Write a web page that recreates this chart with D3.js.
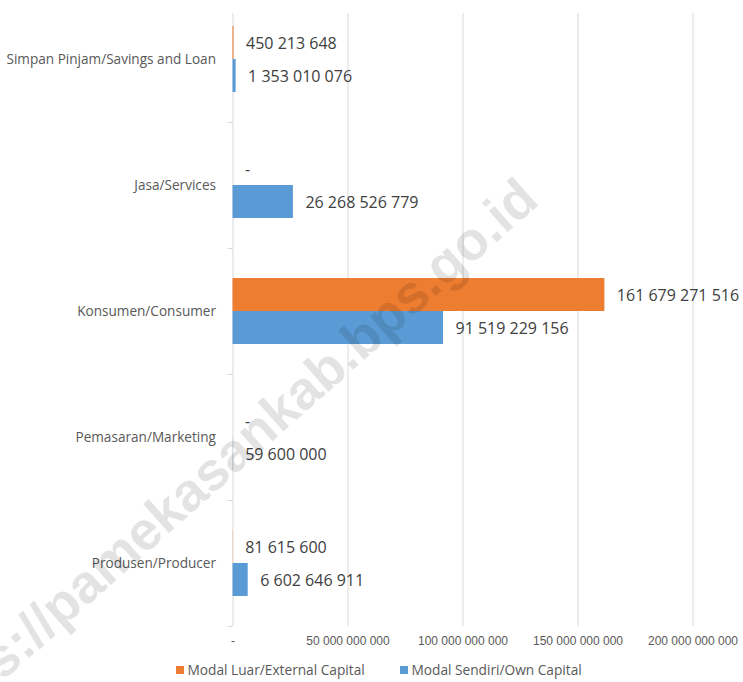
<!DOCTYPE html>
<html>
<head>
<meta charset="utf-8">
<script src="https://cdn.jsdelivr.net/npm/d3@7"></script>
<style>
  body { margin: 0; background: #fff; }
  svg { display: block; font-family: "Open Sans", sans-serif; }
  .x text { fill: #595959; font-size: 12px; }
  .x line { stroke: #d9d9d9; }
  .cat { fill: #595959; font-size: 13.6px; }
  .val { fill: #404040; font-size: 16px; }
  .leg { fill: #595959; font-size: 13.7px; }
</style>
</head>
<body>
<div id="chart"></div>
<script>
// top to bottom
const categories = [
    "Simpan Pinjam/Savings and Loan",
    "Jasa/Services",
    "Konsumen/Consumer",
    "Pemasaran/Marketing",
    "Produsen/Producer"
];
const seriesNames = ["Modal Luar/External Capital", "Modal Sendiri/Own Capital"];
const externalCapital = [450213648, 0, 161679271516, 0, 81615600];
const ownCapital = [1353010076, 26268526779, 91519229156, 59600000, 6602646911];
const tickValues = [0, 50e9, 100e9, 150e9, 200e9];
const colors = ["#ED7D31", "#5B9BD5"];

const w = 743, h = 682;
const left = 232.5, right = 692.5, plotTop = 13, plotBottom = 626;

const loc = d3.formatLocale({thousands: " ", grouping: [3], decimal: ",", currency: ["", ""]});
const fmt = v => v === 0 ? "-" : loc.format(",.0f")(v);

const svg = d3.select("#chart").append("svg")
    .attr("width", w)
    .attr("height", h);

const x = d3.scaleLinear()
    .domain([0, 200e9])
    .range([left, right]);

const y0 = d3.scaleBand()
    .domain(categories)
    .range([-4, plotBottom]);

const y1 = d3.scaleBand()
    .domain(seriesNames)
    .range([0, y0.bandwidth()])
    .paddingOuter(0.91);

// gridlines + tick labels
const xAxis = d3.axisBottom(x)
    .tickValues(tickValues)
    .tickSizeInner(-(plotBottom - plotTop))
    .tickSizeOuter(0)
    .tickPadding(10)
    .tickFormat(fmt);

svg.append("g")
    .attr("class", "x")
    .attr("transform", "translate(0," + plotBottom + ")")
    .call(xAxis)
    .call(g => g.select(".domain").remove())
    .call(g => g.selectAll("text").attr("font-family", null).attr("font-size", null));

// small ticks left of the axis between categories
const bounds = categories.map(c => y0(c)).concat([plotBottom]).filter(v => v > plotTop);
svg.append("g").selectAll("line")
    .data(bounds)
    .enter()
    .append("line")
    .attr("x1", left - 5).attr("x2", left)
    .attr("y1", d => Math.round(d) + 0.5).attr("y2", d => Math.round(d) + 0.5)
    .attr("stroke", "#d9d9d9");

const rows = categories.map((c, i) => ({
    cat: c,
    vals: [externalCapital[i], ownCapital[i]]
}));

const groups = svg.selectAll("g.grp")
    .data(rows)
    .enter()
    .append("g")
    .attr("class", "grp")
    .attr("transform", d => `translate(0,${y0(d.cat)})`);

const items = groups.selectAll("g.item")
    .data(d => d.vals.map((v, k) => ({name: seriesNames[k], v: v, k: k})))
    .enter()
    .append("g");

items.append("rect")
    .attr("x", x(0))
    .attr("y", d => y1(d.name))
    .attr("width", d => x(d.v) - x(0))
    .attr("height", y1.bandwidth())
    .attr("fill", d => colors[d.k]);

items.append("text")
    .attr("class", "val")
    .attr("x", d => x(d.v) + 12.5)
    .attr("y", d => y1(d.name) + y1.bandwidth() / 2 + 1)
    .attr("dy", "0.35em")
    .text(d => fmt(d.v));

// category labels
svg.append("g").selectAll("text")
    .data(categories)
    .enter()
    .append("text")
    .attr("class", "cat")
    .attr("x", 216)
    .attr("y", d => y0(d) + y0.bandwidth() / 2)
    .attr("dy", "0.35em")
    .attr("text-anchor", "end")
    .text(d => d);

// legend
const legX = [176, 400];
const leg = svg.append("g").selectAll("g")
    .data(seriesNames)
    .enter()
    .append("g")
    .attr("transform", (d, i) => `translate(${legX[i]},666)`);
leg.append("rect").attr("width", 8).attr("height", 8).attr("fill", (d, i) => colors[i]);
leg.append("text").attr("class", "leg").attr("x", 11.5).attr("y", 4).attr("dy", "0.35em").text(d => d);

// watermark
svg.append("text")
    .attr("transform", "translate(541,203) rotate(-41.6)")
    .attr("text-anchor", "end")
    .attr("font-family", "Liberation Sans, Arial, sans-serif")
    .attr("font-weight", "bold")
    .attr("font-size", 54)
    .attr("fill", "#000")
    .attr("fill-opacity", 0.11)
    .text("https://pamekasankab.bps.go.id");
</script>
</body>
</html>
